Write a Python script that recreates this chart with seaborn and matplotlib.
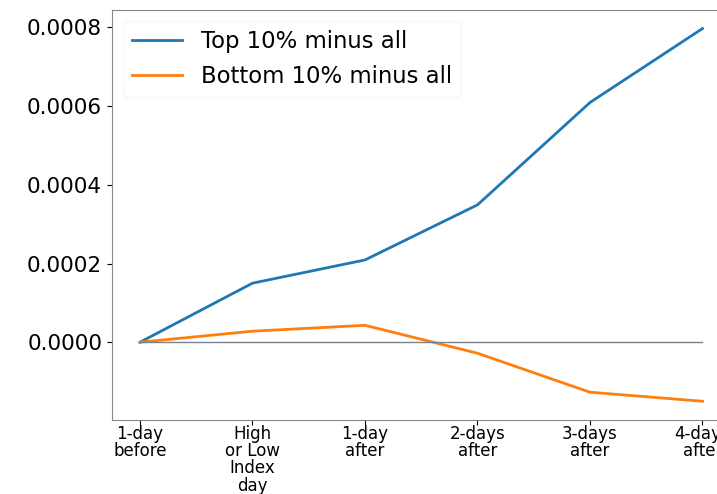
import numpy as np
import pandas as pd
import seaborn as sns
import matplotlib as mpl
from matplotlib import pyplot as plt

days = ["1-day\nbefore", "High\nor Low\nIndex\nday", "1-day\nafter",
        "2-days\nafter", "3-days\nafter", "4-days\nafter"]
top_minus_all = [0.0, 0.000150, 0.000209, 0.000349, 0.000609, 0.000797]
bottom_minus_all = [0.0, 0.000028, 0.000043, -0.000028, -0.000127, -0.000150]
zero_line = [0.0, 0.0, 0.0, 0.0, 0.0, 0.0]

df = pd.DataFrame({
    "day": days * 3,
    "value": top_minus_all + bottom_minus_all + zero_line,
    "series": ["Top 10% minus all"] * 6 + ["Bottom 10% minus all"] * 6 + ["zero"] * 6,
})
df["pos"] = list(range(6)) * 3

fig = plt.figure(figsize=(7.17, 4.94), dpi=100)
# axes runs past the right edge, like the cropped original
ax = fig.add_axes([0.156, 0.150, 0.863, 0.830])

sns.lineplot(data=df[df.series == "Top 10% minus all"], x="pos", y="value",
             color="#1f77b4", lw=2, ax=ax, label="Top 10% minus all")
sns.lineplot(data=df[df.series == "Bottom 10% minus all"], x="pos", y="value",
             color="#ff7f0e", lw=2, ax=ax, label="Bottom 10% minus all")
sns.lineplot(data=df[df.series == "zero"], x="pos", y="value",
             color="#7a8290", lw=1, ax=ax, legend=False)

ax.set_xticks(range(len(days)))
ax.set_xticklabels(days, fontsize=12, linespacing=0.93)
ax.tick_params(axis='x', pad=0.5)
ax.set_yticks([0.0, 0.0002, 0.0004, 0.0006, 0.0008])
ax.yaxis.set_major_formatter(mpl.ticker.StrMethodFormatter('{x:.4f}'))
ax.tick_params(axis='y', labelsize=15.5)
ax.set_xlabel("")
ax.set_ylabel("")
for s in ax.spines.values():
    s.set_color("#888888")
ax.spines['right'].set_visible(False)

ax.legend(loc="upper left", fontsize=16.4, frameon=True, handlelength=2.2,
          labelspacing=0.5, edgecolor="#f4f4f4")

fig.savefig("out.png", dpi=100)
